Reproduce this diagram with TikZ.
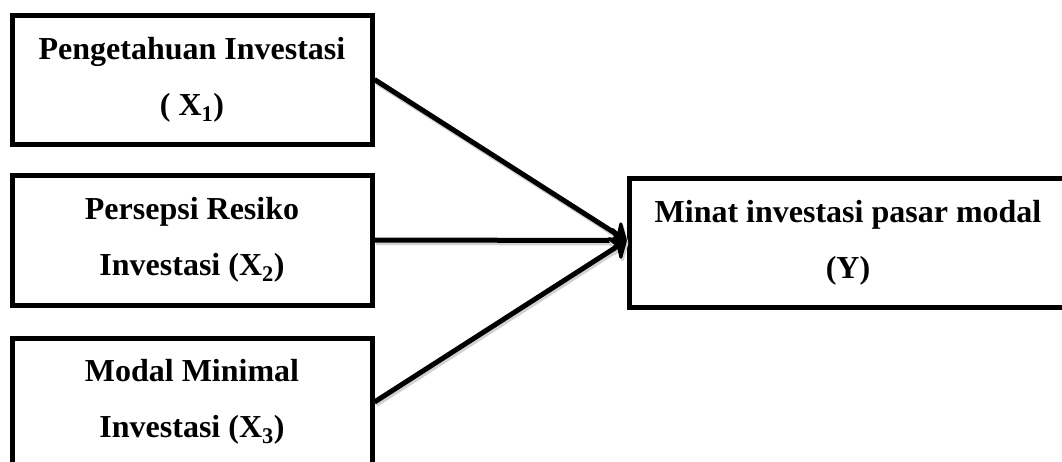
\documentclass[tikz,border=0pt]{standalone}
\usepackage{fontspec}
\setmainfont{Liberation Serif}
\usetikzlibrary{arrows.meta}
\tikzset{
  varbox/.style={draw=black, line width=5pt, inner sep=0pt, align=center,
    font={\fontsize{32}{56}\selectfont\bfseries}},
  link/.style={line width=5pt, -{Stealth[length=18pt,width=32pt,inset=6pt,round]},
    preaction={draw=black!18, line width=5pt, -{Stealth[length=18pt,width=32pt,inset=6pt,round]},
      transform canvas={shift={(1.5pt,-2.5pt)}}}}
}
\begin{document}
\begin{tikzpicture}[x=1pt,y=-1pt]
\useasboundingbox (0,0) rectangle (1062,461);
\clip (0,0) rectangle (1062,461);
\node[varbox, minimum width=360pt, minimum height=129pt] (x1) at (192,79.5)
  {Pengetahuan Investasi\\( X\textsubscript{1})};
\node[varbox, minimum width=360pt, minimum height=130pt] (x2) at (192,240)
  {Persepsi Resiko\\Investasi (X\textsubscript{2})};
\node[varbox, minimum width=360pt, minimum height=128pt] (x3) at (192,402)
  {Modal Minimal\\Investasi (X\textsubscript{3})};
\node[varbox, minimum width=438pt, minimum height=129pt] (y) at (848,242.5)
  {Minat investasi pasar modal\\(Y)};
\coordinate (tip) at ([yshift=2pt]y.west);
\draw[link] (x1.east) -- (tip);
\draw[link] (x2.east) -- (tip);
\draw[link] (x3.east) -- (tip);
\end{tikzpicture}
\end{document}
